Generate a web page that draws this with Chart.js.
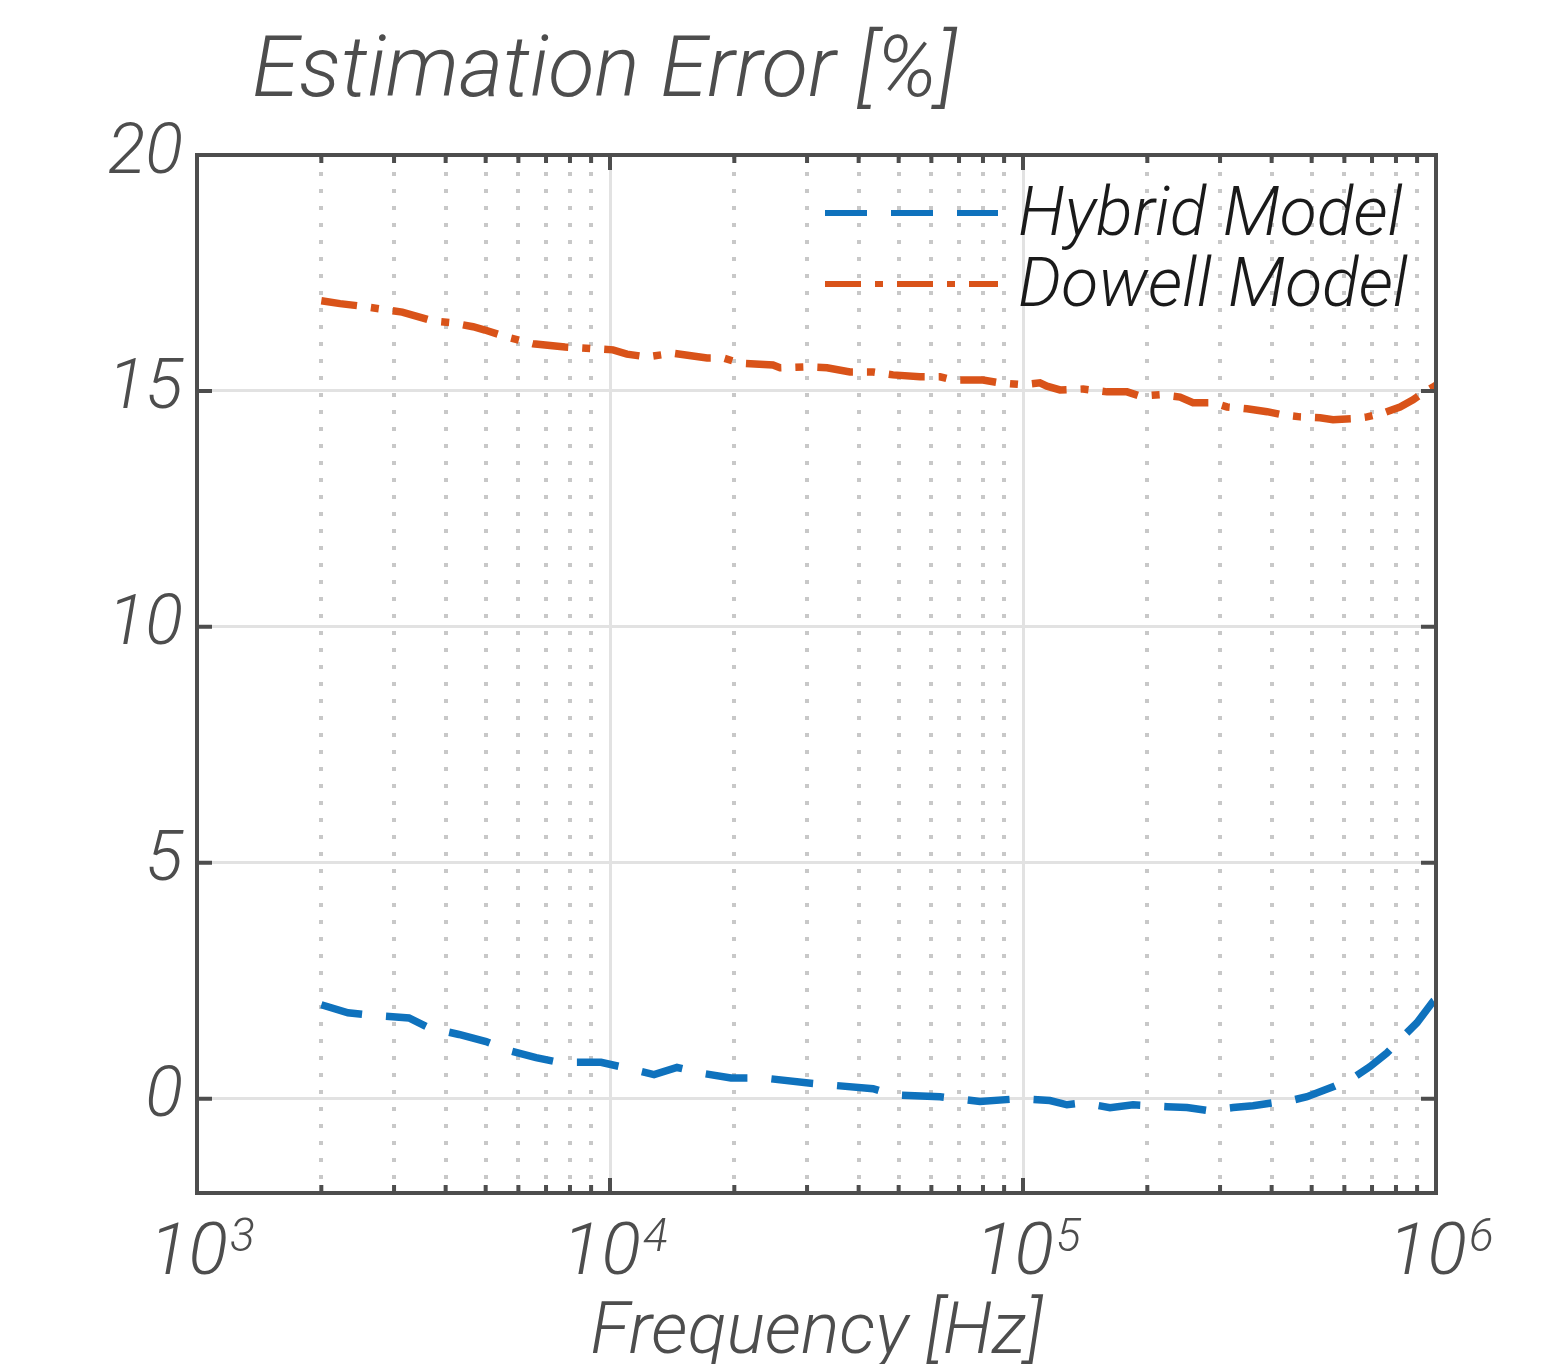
<!DOCTYPE html>
<html>
<head>
<meta charset="utf-8">
<title>Estimation Error</title>
<script src="https://cdn.jsdelivr.net/npm/chart.js@4.4.1/dist/chart.umd.min.js"></script>
<style>
  html, body { margin: 0; padding: 0; background: #fff; }
  canvas { display: block; }
</style>
</head>
<body>
<canvas id="errChart" width="1568" height="1364"></canvas>
<script>
// frequency sweep [Hz] and estimation error [%] for each model
const hybridFreq = [2000, 2320, 2700, 3260, 3650, 4310, 5010, 5690, 6620, 7520, 9510, 10810, 12780, 14530,
  16890, 19630, 22690, 24540, 31010, 43340, 48450, 62970, 78670, 98340, 116200, 127800, 139800, 162400,
  184700, 223200, 249500, 279000, 322500, 360500, 403100, 435800, 487200, 563200, 629700, 692300,
  760800, 818200, 899500, 983400, 1000000];
const hybridErr = [1.99, 1.82, 1.76, 1.71, 1.50, 1.36, 1.21, 1.02, 0.87, 0.77, 0.77, 0.66, 0.51, 0.66,
  0.53, 0.44, 0.44, 0.42, 0.32, 0.21, 0.08, 0.04, -0.06, 0.00, -0.04, -0.13, -0.09, -0.19,
  -0.13, -0.17, -0.19, -0.25, -0.19, -0.15, -0.09, -0.06, 0.04, 0.25, 0.44, 0.68,
  0.97, 1.25, 1.61, 2.06, 2.10];

const dowellFreq = [2000, 2220, 2480, 2770, 3140, 3730, 4170, 4660, 4980, 5630, 6510, 7780, 9300, 10170,
  10990, 12290, 14210, 17180, 18780, 20640, 24810, 25800, 29990, 33530, 38120, 43340, 48450, 56320,
  62970, 67690, 80000, 87980, 100000, 109900, 114300, 122900, 139800, 159700, 178600, 192000, 214600,
  240000, 258000, 288500, 311900, 348600, 389900, 426200, 468600, 523800, 563200, 629700, 680800,
  744000, 818200, 879800, 930100, 983400, 1000000];
const dowellErr = [16.91, 16.85, 16.80, 16.74, 16.67, 16.48, 16.44, 16.36, 16.29, 16.14, 16.00, 15.93, 15.89, 15.87,
  15.78, 15.72, 15.80, 15.70, 15.70, 15.59, 15.55, 15.49, 15.51, 15.49, 15.40, 15.40, 15.34, 15.30,
  15.30, 15.23, 15.23, 15.17, 15.13, 15.17, 15.10, 15.02, 15.04, 14.98, 14.98, 14.89, 14.92,
  14.87, 14.75, 14.75, 14.66, 14.62, 14.56, 14.49, 14.45, 14.43, 14.39, 14.41, 14.45,
  14.53, 14.66, 14.81, 14.96, 15.08, 15.12];

const seriesLabels = ['Hybrid Model', 'Dowell Model'];
const xDecades = [3, 4, 5, 6];
const yTicks = [0, 5, 10, 15, 20];
const yTitle = 'Estimation Error [%]';
const xTitle = 'Frequency [Hz]';

const AXIS_COLOR = '#4d4d4d';
const FONT = 'Roboto';

const isDecade = (v) => Math.abs(Math.log10(v) - Math.round(Math.log10(v))) < 1e-9;

// 1,2,...,9 x 10^n for every decade, closing with the last power of ten
const xTickValues = [];
for (let i = 0; i < xDecades.length - 1; i++) {
  for (let m = 1; m <= 9; m++) xTickValues.push(m * Math.pow(10, xDecades[i]));
}
xTickValues.push(Math.pow(10, xDecades[xDecades.length - 1]));

const toPoints = (xs, ys) => xs.map((x, i) => ({ x: x, y: ys[i] }));

// box, inward ticks, decade labels, titles and the in-plot legend
const framePlugin = {
  id: 'frame',
  afterDraw(chart) {
    const { ctx, chartArea: a, scales: { x, y } } = chart;
    ctx.save();

    ctx.strokeStyle = AXIS_COLOR;
    ctx.lineWidth = 4;
    ctx.beginPath();
    x.ticks.forEach((t) => {
      const px = x.getPixelForValue(t.value);
      if (px <= a.left + 2 || px >= a.right - 2) return;
      const len = isDecade(t.value) ? 15 : 8;
      ctx.moveTo(px, a.bottom); ctx.lineTo(px, a.bottom - len);
      ctx.moveTo(px, a.top); ctx.lineTo(px, a.top + len);
    });
    y.ticks.forEach((t) => {
      const py = y.getPixelForValue(t.value);
      if (py <= a.top + 2 || py >= a.bottom - 2) return;
      ctx.moveTo(a.left, py); ctx.lineTo(a.left + 15, py);
      ctx.moveTo(a.right, py); ctx.lineTo(a.right - 15, py);
    });
    ctx.stroke();
    ctx.strokeRect(a.left, a.top, a.right - a.left, a.bottom - a.top);

    // 10^n labels under the x axis
    ctx.fillStyle = AXIS_COLOR;
    ctx.textBaseline = 'alphabetic';
    ctx.textAlign = 'left';
    xDecades.forEach((e) => {
      const px = x.getPixelForValue(Math.pow(10, e));
      const sup = String(e);
      ctx.font = `italic 300 73px ${FONT}`;
      const wBase = ctx.measureText('10').width;
      ctx.font = `italic 300 46px ${FONT}`;
      const wSup = ctx.measureText(sup).width;
      const left = px + 4 - (wBase + wSup) / 2;
      ctx.font = `italic 300 73px ${FONT}`;
      ctx.fillText('10', left, a.bottom + 81);
      ctx.font = `italic 300 46px ${FONT}`;
      ctx.fillText(sup, left + wBase + 2, a.bottom + 58);
    });

    ctx.font = `italic 300 72px ${FONT}`;
    ctx.textAlign = 'center';
    ctx.fillText(xTitle, (a.left + a.right) / 2, a.bottom + 160);

    ctx.font = `italic 300 85px ${FONT}`;
    ctx.textAlign = 'left';
    ctx.fillText(yTitle, a.left + 55, a.top - 59);

    // legend inside the top right corner
    chart.data.datasets.forEach((ds, i) => {
      const ly = a.top + 58 + i * 71;
      ctx.save();
      ctx.strokeStyle = ds.borderColor;
      ctx.lineWidth = 6;
      ctx.setLineDash(ds.borderDash);
      ctx.beginPath();
      ctx.moveTo(a.right - 611, ly);
      ctx.lineTo(a.right - 438, ly);
      ctx.stroke();
      ctx.restore();
      ctx.fillStyle = '#1a1a1a';
      ctx.font = `italic 300 68px ${FONT}`;
      ctx.textAlign = 'left';
      ctx.fillText(ds.label, a.right - 418, ly + 22);
    });

    ctx.restore();
  }
};

new Chart(document.getElementById('errChart'), {
  type: 'line',
  data: {
    datasets: [
      {
        label: seriesLabels[0],
        data: toPoints(hybridFreq, hybridErr),
        borderColor: '#0f72bd',
        borderWidth: 7.5,
        borderDash: [42, 24],
        pointRadius: 0,
        tension: 0
      },
      {
        label: seriesLabels[1],
        data: toPoints(dowellFreq, dowellErr),
        borderColor: '#d95319',
        borderWidth: 7.5,
        borderDash: [36, 14, 8, 14],
        pointRadius: 0,
        tension: 0
      }
    ]
  },
  options: {
    responsive: false,
    animation: false,
    devicePixelRatio: 1,
    layout: { padding: { top: 155, right: 132, left: 0, bottom: 0 } },
    plugins: {
      legend: { display: false },
      title: { display: false },
      tooltip: { enabled: false }
    },
    scales: {
      x: {
        type: 'logarithmic',
        min: 1000,
        max: 1000000,
        afterBuildTicks: (scale) => {
          scale.ticks = xTickValues.map((v) => ({ value: v, major: isDecade(v) }));
        },
        afterFit: (scale) => { scale.height = 171; },
        ticks: { display: false },
        border: {
          display: false,
          dash: (c) => (c.tick && !isDecade(c.tick.value) ? [4, 13] : [])
        },
        grid: {
          drawTicks: false,
          lineWidth: (c) => (c.tick && isDecade(c.tick.value) ? 3 : 4),
          color: (c) => (c.tick && isDecade(c.tick.value) ? '#e2e2e2' : '#c8c8c8')
        }
      },
      y: {
        min: -2,
        max: 20,
        afterBuildTicks: (scale) => {
          scale.ticks = yTicks.map((v) => ({ value: v }));
        },
        afterFit: (scale) => { scale.width = 197; },
        ticks: {
          padding: 14,
          color: AXIS_COLOR,
          font: { family: FONT, size: 70, style: 'italic', weight: 300 }
        },
        border: { display: false },
        grid: {
          drawTicks: false,
          lineWidth: 3,
          color: '#e2e2e2'
        }
      }
    }
  },
  plugins: [framePlugin]
});
</script>
</body>
</html>
